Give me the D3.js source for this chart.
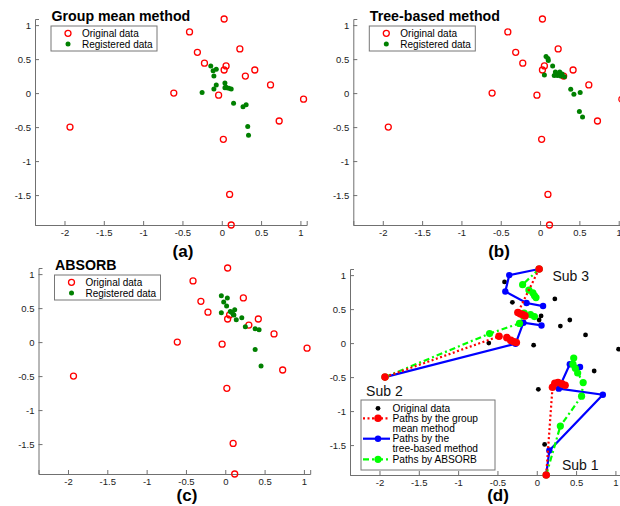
<!DOCTYPE html>
<html>
<head>
<meta charset="utf-8">
<script src="https://cdn.jsdelivr.net/npm/d3@7"></script>
<style>
  body { margin: 0; background: #fff; }
  svg { font-family: "Liberation Sans", Arial, sans-serif; }
</style>
</head>
<body>
<div id="chart"></div>
<script>
// ticks shared by all four panels
const xTicks = [-2, -1.5, -1, -0.5, 0, 0.5, 1];
const yTicks = [1, 0.5, 0, -0.5, -1, -1.5];
const xDomain = [-2.375, 1.08];
const yDomain = [-1.94, 1.09];

// original points (same in every panel)
const originalData = [
    [0.03, 1.09], [-0.41, 0.90], [-0.31, 0.60], [0.23, 0.65], [-0.22, 0.44],
    [0.055, 0.40], [0.03, 0.34], [0.42, 0.34], [0.30, 0.25], [-0.61, 0.00],
    [-0.04, -0.03], [0.62, 0.12], [1.04, -0.09], [0.73, -0.41], [-1.93, -0.50],
    [0.02, -0.68], [0.10, -1.49], [0.12, -1.94]
];

// registered points per method
const registeredGroupMean = [
    [-0.14, 0.40], [-0.11, 0.33], [-0.07, 0.35], [-0.10, 0.25], [0.04, 0.15],
    [-0.07, 0.12], [-0.10, 0.06], [-0.25, 0.01], [0.04, 0.08], [0.06, 0.08],
    [0.09, 0.07], [0.12, 0.06], [0.15, -0.15], [0.27, -0.20], [0.31, -0.17],
    [0.33, -0.49], [0.34, -0.62], [0.05, 0.09]
];
const registeredTreeBased = [
    [0.076, 0.54], [0.10, 0.51], [0.105, 0.48], [0.16, 0.40], [0.055, 0.265],
    [0.195, 0.31], [0.25, 0.31], [0.22, 0.26], [0.31, 0.24], [0.28, 0.28],
    [0.18, 0.26], [0.23, 0.28], [0.26, 0.25], [0.39, 0.055], [0.43, -0.015],
    [0.51, 0.01], [0.50, -0.27], [0.54, -0.35]
];
const registeredAbsorb = [
    [-0.05, 0.68], [0.026, 0.65], [-0.02, 0.59], [0.017, 0.53], [-0.05, 0.43],
    [0.064, 0.45], [0.12, 0.475], [0.10, 0.41], [0.08, 0.44], [0.11, 0.40],
    [0.14, 0.33], [0.21, 0.36], [0.255, 0.225], [0.38, 0.195], [0.43, 0.18],
    [0.38, -0.11], [0.455, -0.35]
];

// paths of the three subjects (Sub 1, Sub 2, Sub 3) per method
const pathsGroupMean = [
    [[0.12, -1.94], [0.20, -0.65], [0.23, -0.59], [0.27, -0.58], [0.32, -0.60], [0.36, -0.62]],
    [[-1.93, -0.50], [-0.48, 0.10], [-0.38, 0.08], [-0.33, 0.04], [-0.29, 0.02], [-0.26, 0.01]],
    [[0.03, 1.09], [-0.24, 0.45], [-0.21, 0.43], [-0.18, 0.42], [-0.15, 0.40]]
];
const pathsTreeBased = [
    [[0.12, -1.94], [0.16, -1.58], [0.84, -0.76], [0.28, -0.67], [0.42, -0.31], [0.55, -0.35]],
    [[-1.93, -0.50], [-0.27, -0.01], [-0.17, 0.30], [0.06, 0.26]],
    [[0.03, 1.09], [-0.35, 1.00], [-0.40, 0.76], [-0.13, 0.59], [0.08, 0.545]]
];
const pathsAbsorb = [
    [[0.12, -1.94], [0.30, -1.22], [0.57, -0.78], [0.59, -0.58], [0.52, -0.44], [0.49, -0.37], [0.46, -0.31], [0.47, -0.22]],
    [[-1.93, -0.50], [-0.60, 0.14], [-0.22, 0.29], [-0.16, 0.44], [-0.08, 0.42], [-0.03, 0.39]],
    [[0.03, 1.09], [-0.18, 0.86], [-0.10, 0.78], [-0.05, 0.74], [-0.03, 0.70], [-0.01, 0.67]]
];
const subLabels = [
    { text: "Sub 1", x: 0.32, y: -1.80 },
    { text: "Sub 2", x: -2.17, y: -0.71 },
    { text: "Sub 3", x: 0.20, y: 0.99 }
];

const titles = ["Group mean method", "Tree-based method", "ABSORB"];
const captions = ["(a)", "(b)", "(c)", "(d)"];

const W = 620, H = 506;
const plotW = 271.7, plotH = 206;
const panels = [
    { left: 35, top: 19, cap: [183, 257] },
    { left: 353.3, top: 19, cap: [499, 257] },
    { left: 38.5, top: 268, cap: [187, 501] },
    { left: 350, top: 269, cap: [498, 501] }
];

const svg = d3.select("#chart").append("svg")
    .attr("width", W).attr("height", H);

const x = d3.scaleLinear().domain(xDomain).range([0, plotW]);
const y = d3.scaleLinear().domain(yDomain).range([plotH, 0]);

function drawAxes(g) {
    const fmt = d => String(d);
    const ax = g.append("g").attr("transform", `translate(0,${plotH})`)
        .call(d3.axisBottom(x).tickValues(xTicks).tickSize(-4).tickPadding(4).tickFormat(fmt));
    const ay = g.append("g")
        .call(d3.axisLeft(y).tickValues(yTicks).tickSize(-4).tickPadding(4).tickFormat(fmt));
    [ax, ay].forEach(a => {
        a.select(".domain").attr("stroke", "#707070");
        a.selectAll(".tick line").attr("stroke", "#707070");
        a.selectAll(".tick text").attr("fill", "#222").style("font-size", "9.5px");
    });
}

function drawScatterLegend(g, bx, by) {
    const lg = g.append("g").attr("transform", `translate(${bx},${by})`);
    lg.append("rect").attr("width", 106).attr("height", 25)
        .attr("fill", "#fff").attr("stroke", "#777").attr("stroke-width", 1);
    lg.append("circle").attr("cx", 17).attr("cy", 7.3).attr("r", 3)
        .attr("fill", "none").attr("stroke", "#ff0000").attr("stroke-width", 1.3);
    lg.append("circle").attr("cx", 17).attr("cy", 18).attr("r", 2.5).attr("fill", "#008000");
    lg.append("text").attr("x", 31).attr("y", 7.3).attr("dy", "0.35em")
        .style("font-size", "10px").text("Original data");
    lg.append("text").attr("x", 31).attr("y", 18).attr("dy", "0.35em")
        .style("font-size", "10px").text("Registered data");
}

const registered = [registeredGroupMean, registeredTreeBased, registeredAbsorb];

panels.forEach((p, i) => {
    const g = svg.append("g").attr("transform", `translate(${p.left},${p.top})`);
    drawAxes(g);

    svg.append("text").attr("x", p.cap[0]).attr("y", p.cap[1])
        .attr("text-anchor", "middle").style("font-size", "17px").style("font-weight", "bold")
        .text(captions[i]);

    if (i < 3) {
        g.append("text").attr("x", 16.5).attr("y", -3.3).attr("dy", "0.35em")
            .style("font-size", "14.2px").style("font-weight", "bold").text(titles[i]);

        g.selectAll(".orig").data(originalData).enter().append("circle")
            .attr("cx", d => x(d[0])).attr("cy", d => y(d[1])).attr("r", 3)
            .attr("fill", "none").attr("stroke", "#ff0000").attr("stroke-width", 1.3);

        g.selectAll(".reg").data(registered[i]).enter().append("circle")
            .attr("cx", d => x(d[0])).attr("cy", d => y(d[1])).attr("r", 2.5)
            .attr("fill", "#008000");

        drawScatterLegend(g, 16, 7);
    } else {
        g.selectAll(".orig").data(originalData).enter().append("circle")
            .attr("cx", d => x(d[0])).attr("cy", d => y(d[1])).attr("r", 2.4)
            .attr("fill", "#000");

        const line = d3.line().x(d => x(d[0])).y(d => y(d[1]));
        const styles = [
            { data: pathsTreeBased, color: "#0000ff", dash: null, r: 3.2 },
            { data: pathsAbsorb, color: "#00ff00", dash: "6,3,2,3", r: 3.6 },
            { data: pathsGroupMean, color: "#ff0000", dash: "2,2.5", r: 3.8 }
        ];
        styles.forEach(s => {
            s.data.forEach(path => {
                g.append("path").attr("d", line(path))
                    .attr("fill", "none").attr("stroke", s.color).attr("stroke-width", 2.2)
                    .attr("stroke-dasharray", s.dash);
                g.selectAll(null).data(path).enter().append("circle")
                    .attr("cx", d => x(d[0])).attr("cy", d => y(d[1])).attr("r", s.r)
                    .attr("fill", s.color);
            });
        });

        g.selectAll(".sub").data(subLabels).enter().append("text")
            .attr("x", d => x(d.x)).attr("y", d => y(d.y)).attr("dy", "0.35em")
            .style("font-size", "14px").attr("fill", "#111").text(d => d.text);

        // legend of panel (d)
        const lg = g.append("g").attr("transform", "translate(11,131)");
        lg.append("rect").attr("width", 134).attr("height", 70)
            .attr("fill", "#fff").attr("stroke", "#777").attr("stroke-width", 1);
        const items = [
            { lines: ["Original data"], color: "#000", dash: null, y: 8.3, dot: 2.4, noLine: true },
            { lines: ["Paths by the group", "mean method"], color: "#ff0000", dash: "2,2.5", y: 18.3, dot: 3.8 },
            { lines: ["Paths by the", "tree-based method"], color: "#0000ff", dash: null, y: 38.7, dot: 3.2 },
            { lines: ["Paths by ABSORB"], color: "#00ff00", dash: "6,3,2,3", y: 59.3, dot: 3.6 }
        ];
        items.forEach(it => {
            if (!it.noLine) {
                lg.append("line").attr("x1", 2).attr("x2", 29).attr("y1", it.y).attr("y2", it.y)
                    .attr("stroke", it.color).attr("stroke-width", 2.2).attr("stroke-dasharray", it.dash);
            }
            lg.append("circle").attr("cx", 17).attr("cy", it.y).attr("r", it.dot).attr("fill", it.color);
            it.lines.forEach((t, k) => {
                lg.append("text").attr("x", 31.5).attr("y", it.y + k * 10.2).attr("dy", "0.35em")
                    .style("font-size", "10.2px").text(t);
            });
        });
    }
});
</script>
</body>
</html>
